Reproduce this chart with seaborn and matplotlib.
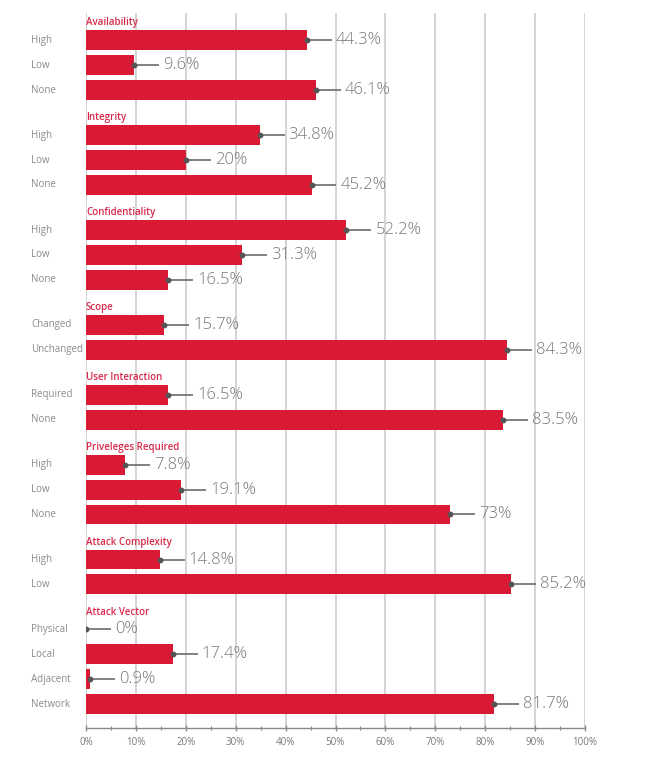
import matplotlib
matplotlib.use("Agg")
import matplotlib.pyplot as plt
import matplotlib.transforms as mtransforms
import seaborn as sns
from matplotlib.ticker import MultipleLocator, FuncFormatter
from pandas import DataFrame

# CVSS metric breakdown (share of vulnerabilities, %)
group_names = ["Availability", "Integrity", "Confidentiality", "Scope",
               "User Interaction", "Priveleges Required", "Attack Complexity",
               "Attack Vector"]

availability_levels = ["High", "Low", "None"]
availability_pct = [44.3, 9.6, 46.1]

integrity_levels = ["High", "Low", "None"]
integrity_pct = [34.8, 20, 45.2]

confidentiality_levels = ["High", "Low", "None"]
confidentiality_pct = [52.2, 31.3, 16.5]

scope_levels = ["Changed", "Unchanged"]
scope_pct = [15.7, 84.3]

user_interaction_levels = ["Required", "None"]
user_interaction_pct = [16.5, 83.5]

privileges_levels = ["High", "Low", "None"]
privileges_pct = [7.8, 19.1, 73]

complexity_levels = ["High", "Low"]
complexity_pct = [14.8, 85.2]

vector_levels = ["Physical", "Local", "Adjacent", "Network"]
vector_pct = [0, 17.4, 0.9, 81.7]

group_levels = [availability_levels, integrity_levels, confidentiality_levels,
                scope_levels, user_interaction_levels, privileges_levels,
                complexity_levels, vector_levels]
group_pct = [availability_pct, integrity_pct, confidentiality_pct, scope_pct,
             user_interaction_pct, privileges_pct, complexity_pct, vector_pct]

BAR_RED = "#da1a34"
TITLE_RED = "#d8294a"
GREY_TEXT = "#8a8a8a"
GROUP_GAP = 1.81


def build_frame() -> DataFrame:
    """ Flatten the groups into one frame with a row position per bar """
    rows = []
    pos = 0.0
    for gi, (name, levels, pcts) in enumerate(zip(group_names, group_levels, group_pct)):
        if gi > 0:
            pos += GROUP_GAP - 1
        for li, (level, pct) in enumerate(zip(levels, pcts)):
            rows.append({"group": name, "level": level, "pct": pct, "pos": pos,
                         "is_first": li == 0})
            pos += 1
    return DataFrame(rows)


def main():
    data = build_frame()

    sns.set_style("white")
    plt.rcParams["font.family"] = ["Open Sans", "DejaVu Sans"]

    fig = plt.figure(figsize=(6.49, 7.60), dpi=100)
    ax = fig.add_axes([86 / 649, 32 / 760, 499 / 649, 715 / 760])

    sns.barplot(data=data, x="pct", y="pos", orient="y", native_scale=True,
                width=0.8, color=BAR_RED, saturation=1, errorbar=None,
                linewidth=0, ax=ax, zorder=3)

    # Connectors and value labels
    for _, row in data.iterrows():
        ax.plot([row["pct"], row["pct"] + 5], [row["pos"], row["pos"]], color="#6b6b6b",
                lw=1.2, zorder=4, solid_capstyle="butt")
        ax.plot([row["pct"]], [row["pos"]], marker="o", ms=3.2, color="#555555", zorder=5)
        ax.text(row["pct"] + 5.8, row["pos"], f"{row['pct']:g}%", va="center", ha="left",
                fontsize=12, fontweight="light", color="#787878", zorder=5)

    # Category labels on the left and group titles above each block
    trans = mtransforms.blended_transform_factory(fig.transFigure, ax.transData)
    for _, row in data.iterrows():
        ax.text(31 / 649, row["pos"], row["level"], transform=trans, va="center",
                ha="left", fontsize=7, color=GREY_TEXT)
        if row["is_first"]:
            ax.text(0, row["pos"] - 0.6, row["group"], va="baseline", ha="left",
                    fontsize=7, color=TITLE_RED, fontweight="semibold")

    last = data["pos"].max()
    ax.set_ylim(last + 0.96, -1.1)
    ax.set_xlim(0, 100)

    ax.xaxis.set_major_locator(MultipleLocator(10))
    ax.xaxis.set_minor_locator(MultipleLocator(5))
    ax.xaxis.set_major_formatter(FuncFormatter(lambda v, _: f"{v:.0f}%"))
    ax.tick_params(axis="x", which="major", direction="inout", length=5, width=1,
                   color="#8a8a8a", labelsize=7, labelcolor="#7a7a7a", pad=4, bottom=True)
    ax.tick_params(axis="x", which="minor", direction="inout", length=3, width=0.8,
                   color="#8a8a8a", bottom=True)
    ax.set_yticks([])
    ax.set_xlabel("")
    ax.set_ylabel("")

    ax.grid(axis="x", which="major", color="#d4d4d4", lw=1.4, zorder=0)
    ax.set_axisbelow(True)
    for side in ["top", "right", "left"]:
        ax.spines[side].set_visible(False)
    ax.spines["bottom"].set_color("#8a8a8a")
    ax.spines["bottom"].set_linewidth(1)

    fig.savefig("out.png", dpi=100, facecolor="white")


if __name__ == "__main__":
    main()
